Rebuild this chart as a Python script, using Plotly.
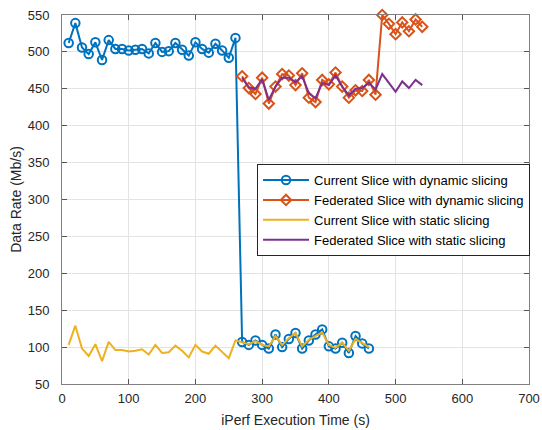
import plotly.graph_objects as go

# Time axis (s)
t_current = list(range(10, 470, 10))          # 10 .. 460
t_federated = list(range(270, 550, 10))       # 270 .. 540

current_dynamic = [512, 539, 506, 497, 513, 489, 516, 504, 504, 502, 503, 504, 498,
                   512, 500, 501, 512, 503, 495, 513, 504, 499, 511, 502, 492, 519,
                   107, 103, 109, 103, 98, 117, 100, 111, 119, 98, 109, 117, 124,
                   101, 98, 106, 92, 115, 105, 98]

current_static = [103, 129, 98, 88, 104, 81, 107, 96, 96, 94, 95, 97, 90,
                  103, 92, 93, 102, 95, 86, 103, 94, 91, 102, 93, 85, 109,
                  106, 104, 108, 103, 101, 115, 103, 112, 119, 101, 110, 115, 120,
                  103, 99, 106, 95, 111, 106, 100]

federated_dynamic = [467, 451, 443, 465, 430, 453, 470, 468, 455, 471, 438, 432, 462, 456,
                     472, 453, 438, 448, 447, 462, 442, 550, 538, 524, 540, 528, 544, 534]

federated_static = [465, 452, 450, 463, 435, 453, 465, 465, 459, 467, 444, 437, 458, 455,
                    468, 453, 441, 450, 451, 458, 449, 470, 458, 446, 460, 451, 462, 455]

names = ["Current Slice with dynamic slicing", "Federated Slice with dynamic slicing",
         "Current Slice with static slicing", "Federated Slice with static slicing"]
colors = ["#0072BD", "#D95319", "#EDB120", "#7E2F8E"]

x_ticks = [0, 100, 200, 300, 400, 500, 600, 700]
y_ticks = [50, 100, 150, 200, 250, 300, 350, 400, 450, 500, 550]

fig = go.Figure()
fig.add_trace(go.Scatter(x=t_current, y=current_dynamic, name=names[0], mode="lines+markers",
                         line=dict(color=colors[0], width=2),
                         marker=dict(symbol="circle-open", size=8.5, line=dict(width=2, color=colors[0])),
                         cliponaxis=False))
fig.add_trace(go.Scatter(x=t_federated, y=federated_dynamic, name=names[1], mode="lines+markers",
                         line=dict(color=colors[1], width=2),
                         marker=dict(symbol="diamond-open", size=8, line=dict(width=2, color=colors[1])),
                         cliponaxis=False))
fig.add_trace(go.Scatter(x=t_current, y=current_static, name=names[2], mode="lines",
                         line=dict(color=colors[2], width=2)))
fig.add_trace(go.Scatter(x=t_federated, y=federated_static, name=names[3], mode="lines",
                         line=dict(color=colors[3], width=2)))

axis_common = dict(showline=True, linecolor="#808080", linewidth=1, mirror="ticks",
                   ticks="inside", ticklen=5, tickcolor="#555555", automargin=False,
                   showgrid=True, gridcolor="#e3e3e3", gridwidth=1, zeroline=False,
                   tickfont=dict(family="Liberation Sans, Arial", size=13, color="#262626"))

fig.update_layout(
    width=542, height=430,
    margin=dict(l=62, r=13, t=15, b=46),
    paper_bgcolor="white", plot_bgcolor="white",
    font=dict(family="Liberation Sans, Arial", color="#262626"),
    xaxis=dict(range=[0, 700], tickvals=x_ticks, ticklabelstandoff=2,
               title=dict(text="iPerf Execution Time (s)", font=dict(size=14), standoff=10),
               **axis_common),
    yaxis=dict(range=[50, 550], tickvals=y_ticks, ticklabelstandoff=9,
               title=dict(text="Data Rate (Mb/s)", font=dict(size=14), standoff=2),
               **axis_common),
    legend=dict(x=0.4176, y=0.596, xanchor="left", yanchor="top",
                bgcolor="white", bordercolor="#262626", borderwidth=1, itemwidth=46,
                font=dict(size=13, color="#000000"), tracegroupgap=0),
    showlegend=True,
)

fig.write_html("out.html")
